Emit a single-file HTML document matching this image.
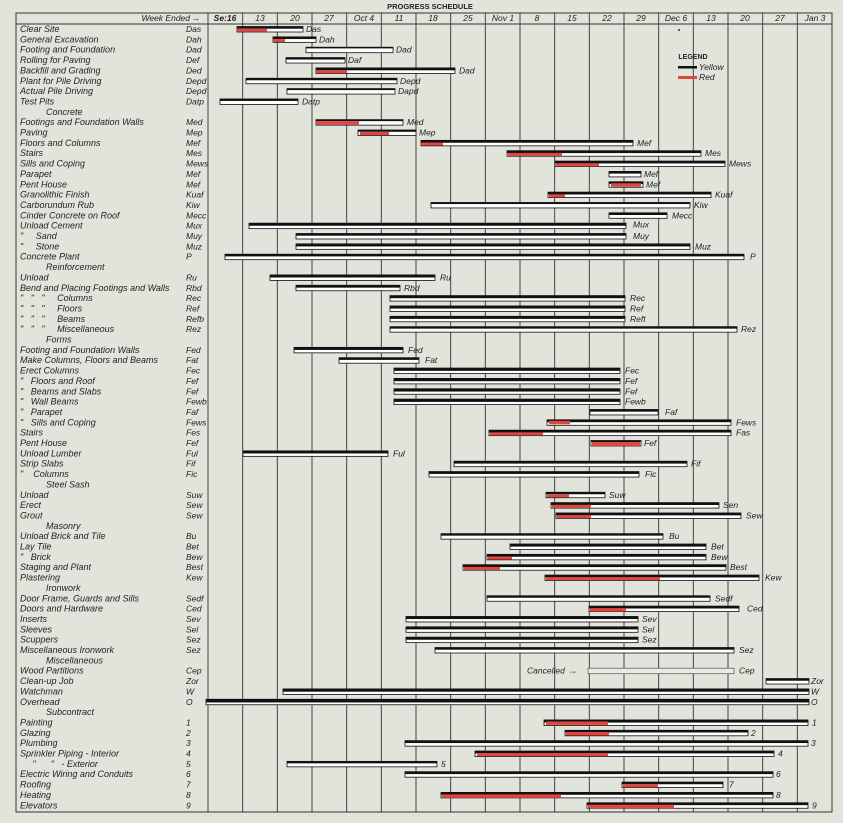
<!DOCTYPE html>
<html><head><meta charset="utf-8"><style>
html,body{margin:0;padding:0;background:#e1e4da;}
svg{display:block}
text{font-family:"Liberation Sans",sans-serif;fill:#222}
.l{font-size:9px;font-style:italic}
.c{font-size:8.5px;font-style:italic}
.t{font-size:8.5px;font-style:italic}
.h{font-size:8.5px;font-style:italic;text-anchor:middle}
.w{fill:#fff;stroke:#111;stroke-width:.8}
.k{fill:#111}
.r{fill:#e0453f}
.g{stroke:#333;stroke-width:.9}
</style></head><body>
<svg width="843" height="823" viewBox="0 0 843 823" xmlns="http://www.w3.org/2000/svg">
<rect width="843" height="823" fill="#e1e4da"/>
<text x="430" y="9" font-size="7.5" font-weight="bold" text-anchor="middle">PROGRESS SCHEDULE</text>
<!-- frame -->
<rect x="16" y="13" width="816" height="799" fill="none" stroke="#333" stroke-width="1"/>
<line class="g" x1="16" y1="24" x2="832" y2="24"/>
<g class="g">
<line x1="208" y1="13" x2="208" y2="812"/><line x1="242.7" y1="13" x2="242.7" y2="812"/><line x1="277.3" y1="13" x2="277.3" y2="812"/><line x1="312" y1="13" x2="312" y2="812"/><line x1="346.7" y1="13" x2="346.7" y2="812"/><line x1="381.3" y1="13" x2="381.3" y2="812"/><line x1="416" y1="13" x2="416" y2="812"/><line x1="450.7" y1="13" x2="450.7" y2="812"/><line x1="485.3" y1="13" x2="485.3" y2="812"/><line x1="520" y1="13" x2="520" y2="812"/><line x1="554.7" y1="13" x2="554.7" y2="812"/><line x1="589.3" y1="13" x2="589.3" y2="812"/><line x1="624" y1="13" x2="624" y2="812"/><line x1="658.7" y1="13" x2="658.7" y2="812"/><line x1="693.3" y1="13" x2="693.3" y2="812"/><line x1="728" y1="13" x2="728" y2="812"/><line x1="762.7" y1="13" x2="762.7" y2="812"/><line x1="797.3" y1="13" x2="797.3" y2="812"/>
</g>
<text x="190" y="21" class="t" text-anchor="end">Week Ended</text>
<text x="191" y="21" font-size="9">→</text>
<g transform="translate(0,21)">
<text x="225" class="h" font-weight="bold" font-style="normal">Se:16</text><text x="260" class="h">13</text><text x="295" class="h">20</text><text x="329" class="h">27</text><text x="364" class="h">Oct 4</text><text x="399" class="h">11</text><text x="433" class="h">18</text><text x="468" class="h">25</text><text x="503" class="h">Nov 1</text><text x="537" class="h">8</text><text x="572" class="h">15</text><text x="607" class="h">22</text><text x="641" class="h">29</text><text x="676" class="h">Dec 6</text><text x="711" class="h">13</text><text x="745" class="h">20</text><text x="780" class="h">27</text><text x="815" class="h">Jan 3</text>
</g>
<!-- legend -->
<text x="693" y="59" font-size="7" font-weight="bold" text-anchor="middle">LEGEND</text>
<rect x="678" y="66" width="19" height="2.5" class="k"/><text x="699" y="70" class="c">Yellow</text>
<rect x="678" y="76" width="19" height="3" class="r"/><text x="699" y="80" class="c">Red</text>
<circle cx="679" cy="30" r="1" fill="#333"/>

<!-- left labels -->
<g class="l">
<text x="20" y="32">Clear Site</text><text x="186" y="32" class="c">Das</text>
<text x="20" y="42.4">General Excavation</text><text x="186" y="42.4" class="c">Dah</text>
<text x="20" y="52.7">Footing and Foundation</text><text x="186" y="52.7" class="c">Dad</text>
<text x="20" y="63">Rolling for Paving</text><text x="186" y="63" class="c">Def</text>
<text x="20" y="73.4">Backfill and Grading</text><text x="186" y="73.4" class="c">Ded</text>
<text x="20" y="83.8">Plant for Pile Driving</text><text x="186" y="83.8" class="c">Depd</text>
<text x="20" y="94.1">Actual Pile Driving</text><text x="186" y="94.1" class="c">Depd</text>
<text x="20" y="104.5">Test Pits</text><text x="186" y="104.5" class="c">Datp</text>
<text x="46" y="114.8">Concrete</text>
<text x="20" y="125.2">Footings and Foundation Walls</text><text x="186" y="125.2" class="c">Med</text>
<text x="20" y="135.5">Paving</text><text x="186" y="135.5" class="c">Mep</text>
<text x="20" y="145.9">Floors and Columns</text><text x="186" y="145.9" class="c">Mef</text>
<text x="20" y="156.2">Stairs</text><text x="186" y="156.2" class="c">Mes</text>
<text x="20" y="166.6">Sills and Coping</text><text x="186" y="166.6" class="c">Mews</text>
<text x="20" y="176.9">Parapet</text><text x="186" y="176.9" class="c">Mef</text>
<text x="20" y="187.3">Pent House</text><text x="186" y="187.3" class="c">Mef</text>
<text x="20" y="197.6">Granolithic Finish</text><text x="186" y="197.6" class="c">Kuaf</text>
<text x="20" y="208">Carborundum Rub</text><text x="186" y="208" class="c">Kiw</text>
<text x="20" y="218.3">Cinder Concrete on Roof</text><text x="186" y="218.3" class="c">Mecc</text>
<text x="20" y="228.7">Unload Cement</text><text x="186" y="228.7" class="c">Mux</text>
<text x="20" y="239">"&#160;&#160;&#160;&#160;&#160;Sand</text><text x="186" y="239" class="c">Muy</text>
<text x="20" y="249.4">"&#160;&#160;&#160;&#160;&#160;Stone</text><text x="186" y="249.4" class="c">Muz</text>
<text x="20" y="259.7">Concrete Plant</text><text x="186" y="259.7" class="c">P</text>
<text x="46" y="270.1">Reinforcement</text>
<text x="20" y="280.4">Unload</text><text x="186" y="280.4" class="c">Ru</text>
<text x="20" y="290.8">Bend and Placing Footings and Walls</text><text x="186" y="290.8" class="c">Rbd</text>
<text x="20" y="301.1">"&#160;&#160;&#160;"&#160;&#160;&#160;"&#160;&#160;&#160;&#160;&#160;Columns</text><text x="186" y="301.1" class="c">Rec</text>
<text x="20" y="311.5">"&#160;&#160;&#160;"&#160;&#160;&#160;"&#160;&#160;&#160;&#160;&#160;Floors</text><text x="186" y="311.5" class="c">Ref</text>
<text x="20" y="321.8">"&#160;&#160;&#160;"&#160;&#160;&#160;"&#160;&#160;&#160;&#160;&#160;Beams</text><text x="186" y="321.8" class="c">Refb</text>
<text x="20" y="332.2">"&#160;&#160;&#160;"&#160;&#160;&#160;"&#160;&#160;&#160;&#160;&#160;Miscellaneous</text><text x="186" y="332.2" class="c">Rez</text>
<text x="46" y="342.5">Forms</text>
<text x="20" y="352.9">Footing and Foundation Walls</text><text x="186" y="352.9" class="c">Fed</text>
<text x="20" y="363.2">Make Columns, Floors and Beams</text><text x="186" y="363.2" class="c">Fat</text>
<text x="20" y="373.6">Erect Columns</text><text x="186" y="373.6" class="c">Fec</text>
<text x="20" y="383.9">"&#160;&#160;&#160;Floors and Roof</text><text x="186" y="383.9" class="c">Fef</text>
<text x="20" y="394.3">"&#160;&#160;&#160;Beams and Slabs</text><text x="186" y="394.3" class="c">Fef</text>
<text x="20" y="404.6">"&#160;&#160;&#160;Wall Beams</text><text x="186" y="404.6" class="c">Fewb</text>
<text x="20" y="415">"&#160;&#160;&#160;Parapet</text><text x="186" y="415" class="c">Faf</text>
<text x="20" y="425.3">"&#160;&#160;&#160;Sills and Coping</text><text x="186" y="425.3" class="c">Fews</text>
<text x="20" y="435.7">Stairs</text><text x="186" y="435.7" class="c">Fes</text>
<text x="20" y="446">Pent House</text><text x="186" y="446" class="c">Fef</text>
<text x="20" y="456.4">Unload Lumber</text><text x="186" y="456.4" class="c">Ful</text>
<text x="20" y="466.7">Strip Slabs</text><text x="186" y="466.7" class="c">Fif</text>
<text x="20" y="477.1">"&#160;&#160;&#160;&#160;Columns</text><text x="186" y="477.1" class="c">Fic</text>
<text x="46" y="487.4">Steel Sash</text>
<text x="20" y="497.8">Unload</text><text x="186" y="497.8" class="c">Suw</text>
<text x="20" y="508.1">Erect</text><text x="186" y="508.1" class="c">Sew</text>
<text x="20" y="518.5">Grout</text><text x="186" y="518.5" class="c">Sew</text>
<text x="46" y="528.8">Masonry</text>
<text x="20" y="539.2">Unload Brick and Tile</text><text x="186" y="539.2" class="c">Bu</text>
<text x="20" y="549.5">Lay Tile</text><text x="186" y="549.5" class="c">Bet</text>
<text x="20" y="559.9">"&#160;&#160;&#160;Brick</text><text x="186" y="559.9" class="c">Bew</text>
<text x="20" y="570.2">Staging and Plant</text><text x="186" y="570.2" class="c">Best</text>
<text x="20" y="580.6">Plastering</text><text x="186" y="580.6" class="c">Kew</text>
<text x="46" y="590.9">Ironwork</text>
<text x="20" y="601.3">Door Frame, Guards and Sills</text><text x="186" y="601.3" class="c">Sedf</text>
<text x="20" y="611.6">Doors and Hardware</text><text x="186" y="611.6" class="c">Ced</text>
<text x="20" y="622">Inserts</text><text x="186" y="622" class="c">Sev</text>
<text x="20" y="632.3">Sleeves</text><text x="186" y="632.3" class="c">Sel</text>
<text x="20" y="642.7">Scuppers</text><text x="186" y="642.7" class="c">Sez</text>
<text x="20" y="653">Miscellaneous Ironwork</text><text x="186" y="653" class="c">Sez</text>
<text x="46" y="663.4">Miscellaneous</text>
<text x="20" y="673.7">Wood Partitions</text><text x="186" y="673.7" class="c">Cep</text>
<text x="20" y="684.1">Clean-up Job</text><text x="186" y="684.1" class="c">Zor</text>
<text x="20" y="694.4">Watchman</text><text x="186" y="694.4" class="c">W</text>
<text x="20" y="704.8">Overhead</text><text x="186" y="704.8" class="c">O</text>
<text x="46" y="715.1">Subcontract</text>
<text x="20" y="725.5">Painting</text><text x="186" y="725.5" class="c">1</text>
<text x="20" y="735.8">Glazing</text><text x="186" y="735.8" class="c">2</text>
<text x="20" y="746.2">Plumbing</text><text x="186" y="746.2" class="c">3</text>
<text x="20" y="756.5">Sprinkler Piping - Interior</text><text x="186" y="756.5" class="c">4</text>
<text x="20" y="766.9">&#160;&#160;&#160;&#160;&#160;"&#160;&#160;&#160;&#160;&#160;&#160;"&#160;&#160;&#160;- Exterior</text><text x="186" y="766.9" class="c">5</text>
<text x="20" y="777.2">Electric Wiring and Conduits</text><text x="186" y="777.2" class="c">6</text>
<text x="20" y="787.6">Roofing</text><text x="186" y="787.6" class="c">7</text>
<text x="20" y="797.9">Heating</text><text x="186" y="797.9" class="c">8</text>
<text x="20" y="808.3">Elevators</text><text x="186" y="808.3" class="c">9</text>
</g>

<!-- bars -->
<g>
<g transform="translate(0,29)"><rect class="w" x="237" y="-2.5" width="66" height="5.5"/><rect class="k" x="237" y="-2.5" width="66" height="2.2"/><rect class="r" x="237" y="-.3" width="30" height="3"/><text x="306" y="3" class="c">Das</text></g>
<g transform="translate(0,39.35)"><rect class="w" x="273" y="-2.5" width="43" height="5.5"/><rect class="k" x="273" y="-2.5" width="43" height="2.2"/><rect class="r" x="273" y="-.3" width="12" height="3"/><text x="319" y="3" class="c">Dah</text></g>
<g transform="translate(0,49.7)"><rect class="w" x="306" y="-2.5" width="87" height="5.5"/><rect class="k" x="306" y="-2.5" width="87" height="1.2"/><text x="396" y="3" class="c">Dad</text></g>
<g transform="translate(0,60.05)"><rect class="w" x="286" y="-2.5" width="59" height="5.5"/><rect class="k" x="286" y="-2.5" width="59" height="2"/><text x="348" y="3" class="c">Daf</text></g>
<g transform="translate(0,70.4)"><rect class="w" x="316" y="-2.5" width="139" height="5.5"/><rect class="k" x="316" y="-2.5" width="139" height="2.4"/><rect class="r" x="316" y="-.3" width="31" height="3"/><text x="459" y="3" class="c">Dad</text></g>
<g transform="translate(0,80.75)"><rect class="w" x="246" y="-2.5" width="151" height="5.5"/><rect class="k" x="246" y="-2.5" width="151" height="2"/><text x="400" y="3" class="c">Depd</text></g>
<g transform="translate(0,91.1)"><rect class="w" x="287" y="-2.5" width="108" height="5.5"/><rect class="k" x="287" y="-2.5" width="108" height="1.5"/><text x="398" y="3" class="c">Dapd</text></g>
<g transform="translate(0,101.45)"><rect class="w" x="220" y="-2.5" width="78" height="5.5"/><rect class="k" x="220" y="-2.5" width="78" height="2"/><text x="302" y="3" class="c">Datp</text></g>
<g transform="translate(0,122.15)"><rect class="w" x="316" y="-2.5" width="87" height="5.5"/><rect class="k" x="316" y="-2.5" width="87" height="1.5"/><rect class="r" x="316" y="-1" width="43" height="3.5"/><text x="407" y="3" class="c">Med</text></g>
<g transform="translate(0,132.5)"><rect class="w" x="358" y="-2.5" width="58" height="5.5"/><rect class="k" x="358" y="-2.5" width="58" height="1.8"/><rect class="r" x="360" y="-.5" width="29" height="3"/><text x="419" y="3" class="c">Mep</text></g>
<g transform="translate(0,142.85)"><rect class="w" x="421" y="-2.5" width="212" height="5.5"/><rect class="k" x="421" y="-2.5" width="212" height="2.4"/><rect class="r" x="421" y="-.3" width="22" height="3"/><text x="637" y="3" class="c">Mef</text></g>
<g transform="translate(0,153.2)"><rect class="w" x="507" y="-2.5" width="194" height="5.5"/><rect class="k" x="507" y="-2.5" width="194" height="2.4"/><rect class="r" x="508" y="-.3" width="54" height="3"/><text x="705" y="3" class="c">Mes</text></g>
<g transform="translate(0,163.55)"><rect class="w" x="555" y="-2.5" width="170" height="5.5"/><rect class="k" x="555" y="-2.5" width="170" height="2.4"/><rect class="r" x="556" y="-.3" width="43" height="3"/><text x="729" y="3" class="c">Mews</text></g>
<g transform="translate(0,173.9)"><rect class="w" x="609" y="-2.5" width="32" height="5.5"/><rect class="k" x="609" y="-2.5" width="32" height="2.2"/><text x="644" y="3" class="c">Mef</text></g>
<g transform="translate(0,184.25)"><rect class="w" x="609" y="-2.5" width="34" height="5.5"/><rect class="k" x="609" y="-2.5" width="34" height="2.2"/><rect class="r" x="611" y="-1" width="30" height="3.5"/><text x="646" y="3" class="c">Mef</text></g>
<g transform="translate(0,194.6)"><rect class="w" x="548" y="-2.5" width="163" height="5.5"/><rect class="k" x="548" y="-2.5" width="163" height="2.4"/><rect class="r" x="549" y="-.3" width="16" height="3"/><text x="715" y="3" class="c">Kuaf</text></g>
<g transform="translate(0,204.95)"><rect class="w" x="431" y="-2.5" width="259" height="5.5"/><rect class="k" x="431" y="-2.5" width="259" height="1.6"/><text x="694" y="3" class="c">Kiw</text></g>
<g transform="translate(0,215.3)"><rect class="w" x="609" y="-2.5" width="58" height="5.5"/><rect class="k" x="609" y="-2.5" width="58" height="2.2"/><text x="672" y="3" class="c">Mecc</text></g>
<g transform="translate(0,225.65)"><rect class="w" x="249" y="-2.5" width="377" height="5.5"/><rect class="k" x="249" y="-2.5" width="377" height="2.6"/><text x="633" y="2" class="c">Mux</text></g>
<g transform="translate(0,236)"><rect class="w" x="296" y="-2.5" width="330" height="5.5"/><rect class="k" x="296" y="-2.5" width="330" height="2.2"/><text x="633" y="3" class="c">Muy</text></g>
<g transform="translate(0,246.35)"><rect class="w" x="296" y="-2.5" width="394" height="5.5"/><rect class="k" x="296" y="-2.5" width="394" height="2.6"/><text x="695" y="3" class="c">Muz</text></g>
<g transform="translate(0,256.7)"><rect class="w" x="225" y="-2.5" width="519" height="5.5"/><rect class="k" x="225" y="-2.5" width="519" height="2.2"/><text x="750" y="3" class="c">P</text></g>
<g transform="translate(0,277.4)"><rect class="w" x="270" y="-2.5" width="165" height="5.5"/><rect class="k" x="270" y="-2.5" width="165" height="2.6"/><text x="440" y="3" class="c">Ru</text></g>
<g transform="translate(0,287.75)"><rect class="w" x="296" y="-2.5" width="104" height="5.5"/><rect class="k" x="296" y="-2.5" width="104" height="2.4"/><text x="404" y="3" class="c">Rbd</text></g>
<g transform="translate(0,298.1)"><rect class="w" x="390" y="-2.5" width="235" height="5.5"/><rect class="k" x="390" y="-2.5" width="235" height="2.6"/><text x="630" y="3" class="c">Rec</text></g>
<g transform="translate(0,308.45)"><rect class="w" x="390" y="-2.5" width="235" height="5.5"/><rect class="k" x="390" y="-2.5" width="235" height="2.6"/><text x="630" y="3" class="c">Ref</text></g>
<g transform="translate(0,318.8)"><rect class="w" x="390" y="-2.5" width="235" height="5.5"/><rect class="k" x="390" y="-2.5" width="235" height="2.6"/><text x="630" y="3" class="c">Reft</text></g>
<g transform="translate(0,329.15)"><rect class="w" x="390" y="-2.5" width="347" height="5.5"/><rect class="k" x="390" y="-2.5" width="347" height="2"/><text x="741" y="3" class="c">Rez</text></g>
<g transform="translate(0,349.85)"><rect class="w" x="294" y="-2.5" width="109" height="5.5"/><rect class="k" x="294" y="-2.5" width="109" height="2.6"/><text x="408" y="3" class="c">Fed</text></g>
<g transform="translate(0,360.2)"><rect class="w" x="339" y="-2.5" width="80" height="5.5"/><rect class="k" x="339" y="-2.5" width="80" height="2.2"/><text x="425" y="3" class="c">Fat</text></g>
<g transform="translate(0,370.55)"><rect class="w" x="394" y="-2.5" width="226" height="5.5"/><rect class="k" x="394" y="-2.5" width="226" height="2.8"/><text x="625" y="3" class="c">Fec</text></g>
<g transform="translate(0,380.9)"><rect class="w" x="394" y="-2.5" width="226" height="5.5"/><rect class="k" x="394" y="-2.5" width="226" height="2.8"/><text x="625" y="3" class="c">Fef</text></g>
<g transform="translate(0,391.25)"><rect class="w" x="394" y="-2.5" width="226" height="5.5"/><rect class="k" x="394" y="-2.5" width="226" height="2.8"/><text x="625" y="3" class="c">Fef</text></g>
<g transform="translate(0,401.6)"><rect class="w" x="394" y="-2.5" width="226" height="5.5"/><rect class="k" x="394" y="-2.5" width="226" height="2.8"/><text x="625" y="3" class="c">Fewb</text></g>
<g transform="translate(0,411.95)"><rect class="w" x="590" y="-2.5" width="68" height="5.5"/><rect class="k" x="590" y="-2.5" width="68" height="2.2"/><text x="665" y="3" class="c">Faf</text></g>
<g transform="translate(0,422.3)"><rect class="w" x="547" y="-2.5" width="184" height="5.5"/><rect class="k" x="547" y="-2.5" width="184" height="2.4"/><rect class="r" x="549" y="-1.5" width="21" height="3.5"/><text x="736" y="3" class="c">Fews</text></g>
<g transform="translate(0,432.65)"><rect class="w" x="489" y="-2.5" width="242" height="5.5"/><rect class="k" x="489" y="-2.5" width="242" height="2.4"/><rect class="r" x="490" y="-.3" width="53" height="3"/><text x="736" y="3" class="c">Fas</text></g>
<g transform="translate(0,443)"><rect class="w" x="591" y="-2.5" width="50" height="5.5"/><rect class="k" x="591" y="-2.5" width="50" height="1.5"/><rect class="r" x="592" y="-1" width="48" height="4"/><text x="644" y="3" class="c">Fef</text></g>
<g transform="translate(0,453.35)"><rect class="w" x="243" y="-2.5" width="145" height="5.5"/><rect class="k" x="243" y="-2.5" width="145" height="2.6"/><text x="393" y="3" class="c">Ful</text></g>
<g transform="translate(0,463.7)"><rect class="w" x="454" y="-2.5" width="233" height="5.5"/><rect class="k" x="454" y="-2.5" width="233" height="2.4"/><text x="691" y="3" class="c">Fif</text></g>
<g transform="translate(0,474.05)"><rect class="w" x="429" y="-2.5" width="210" height="5.5"/><rect class="k" x="429" y="-2.5" width="210" height="2.4"/><text x="645" y="3" class="c">Fic</text></g>
<g transform="translate(0,494.75)"><rect class="w" x="546" y="-2.5" width="59" height="5.5"/><rect class="k" x="546" y="-2.5" width="59" height="2"/><rect class="r" x="547" y="-.3" width="22" height="3"/><text x="609" y="3" class="c">Suw</text></g>
<g transform="translate(0,505.1)"><rect class="w" x="551" y="-2.5" width="168" height="5.5"/><rect class="k" x="551" y="-2.5" width="168" height="2.4"/><rect class="r" x="552" y="-.3" width="39" height="3"/><text x="723" y="3" class="c">Sen</text></g>
<g transform="translate(0,515.45)"><rect class="w" x="556" y="-2.5" width="185" height="5.5"/><rect class="k" x="556" y="-2.5" width="185" height="2.4"/><rect class="r" x="557" y="-.3" width="34" height="3"/><text x="746" y="3" class="c">Sew</text></g>
<g transform="translate(0,536.15)"><rect class="w" x="441" y="-2.5" width="222" height="5.5"/><rect class="k" x="441" y="-2.5" width="222" height="2"/><text x="669" y="3" class="c">Bu</text></g>
<g transform="translate(0,546.5)"><rect class="w" x="510" y="-2.5" width="196" height="5.5"/><rect class="k" x="510" y="-2.5" width="196" height="2.6"/><text x="711" y="3" class="c">Bet</text></g>
<g transform="translate(0,556.85)"><rect class="w" x="487" y="-2.5" width="219" height="5.5"/><rect class="k" x="487" y="-2.5" width="219" height="2.4"/><rect class="r" x="488" y="-.3" width="24" height="3"/><text x="711" y="3" class="c">Bew</text></g>
<g transform="translate(0,567.2)"><rect class="w" x="463" y="-2.5" width="263" height="5.5"/><rect class="k" x="463" y="-2.5" width="263" height="2.4"/><rect class="r" x="464" y="-.3" width="36" height="3"/><text x="730" y="3" class="c">Best</text></g>
<g transform="translate(0,577.55)"><rect class="w" x="545" y="-2.5" width="214" height="5.5"/><rect class="k" x="545" y="-2.5" width="214" height="2.4"/><rect class="r" x="546" y="-.5" width="114" height="3"/><text x="765" y="3" class="c">Kew</text></g>
<g transform="translate(0,598.25)"><rect class="w" x="487" y="-2.5" width="223" height="5.5"/><rect class="k" x="487" y="-2.5" width="223" height="2"/><text x="715" y="3" class="c">Sedf</text></g>
<g transform="translate(0,608.6)"><rect class="w" x="589" y="-2.5" width="150" height="5.5"/><rect class="k" x="589" y="-2.5" width="150" height="2.4"/><rect class="r" x="590" y="-.5" width="36" height="3.5"/><text x="747" y="3" class="c">Ced</text></g>
<g transform="translate(0,618.95)"><rect class="w" x="406" y="-2.5" width="232" height="5.5"/><rect class="k" x="406" y="-2.5" width="232" height="2.6"/><text x="642" y="3" class="c">Sev</text></g>
<g transform="translate(0,629.3)"><rect class="w" x="406" y="-2.5" width="232" height="5.5"/><rect class="k" x="406" y="-2.5" width="232" height="2.6"/><text x="642" y="3" class="c">Sel</text></g>
<g transform="translate(0,639.65)"><rect class="w" x="406" y="-2.5" width="232" height="5.5"/><rect class="k" x="406" y="-2.5" width="232" height="2.6"/><text x="642" y="3" class="c">Sez</text></g>
<g transform="translate(0,650)"><rect class="w" x="435" y="-2.5" width="299" height="5.5"/><rect class="k" x="435" y="-2.5" width="299" height="2.2"/><text x="739" y="3" class="c">Sez</text></g>
<g transform="translate(0,670.7)"><text x="527" y="3" class="c">Cancelled</text><text x="568" y="3" font-size="9">→</text><rect x="588" y="-2.5" width="146" height="5.5" fill="#e8ebe3" stroke="#555" stroke-width=".7"/><text x="739" y="3" class="c">Cep</text></g>
<g transform="translate(0,681.05)"><rect class="w" x="766" y="-2.5" width="43" height="5.5"/><rect class="k" x="766" y="-2.5" width="43" height="2.2"/><text x="811" y="3" class="c">Zor</text></g>
<g transform="translate(0,691.4)"><rect class="w" x="283" y="-2.5" width="526" height="5.5"/><rect class="k" x="283" y="-2.5" width="526" height="2.8"/><text x="811" y="3" class="c">W</text></g>
<g transform="translate(0,701.75)"><rect class="w" x="206" y="-2.5" width="603" height="5.5"/><rect class="k" x="206" y="-2.5" width="603" height="3.2"/><text x="811" y="3" class="c">O</text></g>
<g transform="translate(0,722.45)"><rect class="w" x="544" y="-2.5" width="264" height="5.5"/><rect class="k" x="544" y="-2.5" width="264" height="2.6"/><rect class="r" x="546" y="-1" width="62" height="3.5"/><text x="812" y="3" class="c">1</text></g>
<g transform="translate(0,732.8)"><rect class="w" x="565" y="-2.5" width="183" height="5.5"/><rect class="k" x="565" y="-2.5" width="183" height="2.2"/><rect class="r" x="566" y="-.8" width="43" height="3.5"/><text x="751" y="3" class="c">2</text></g>
<g transform="translate(0,743.15)"><rect class="w" x="405" y="-2.5" width="403" height="5.5"/><rect class="k" x="405" y="-2.5" width="403" height="2.4"/><text x="811" y="3" class="c">3</text></g>
<g transform="translate(0,753.5)"><rect class="w" x="475" y="-2.5" width="299" height="5.5"/><rect class="k" x="475" y="-2.5" width="299" height="2.4"/><rect class="r" x="477" y="-.5" width="131" height="3"/><text x="778" y="3" class="c">4</text></g>
<g transform="translate(0,763.85)"><rect class="w" x="287" y="-2.5" width="150" height="5.5"/><rect class="k" x="287" y="-2.5" width="150" height="2"/><text x="441" y="3" class="c">5</text></g>
<g transform="translate(0,774.2)"><rect class="w" x="405" y="-2.5" width="368" height="5.5"/><rect class="k" x="405" y="-2.5" width="368" height="2.4"/><text x="776" y="3" class="c">6</text></g>
<g transform="translate(0,784.55)"><rect class="w" x="622" y="-2.5" width="101" height="5.5"/><rect class="k" x="622" y="-2.5" width="101" height="2.2"/><rect class="r" x="623" y="-.5" width="35" height="3"/><text x="729" y="3" class="c">7</text></g>
<g transform="translate(0,794.9)"><rect class="w" x="441" y="-2.5" width="332" height="5.5"/><rect class="k" x="441" y="-2.5" width="332" height="2.4"/><rect class="r" x="442" y="-.5" width="119" height="3.5"/><text x="776" y="3" class="c">8</text></g>
<g transform="translate(0,805.25)"><rect class="w" x="587" y="-2.5" width="221" height="5.5"/><rect class="k" x="587" y="-2.5" width="221" height="2.4"/><rect class="r" x="588" y="-.5" width="86" height="3.5"/><text x="812" y="3" class="c">9</text></g>
</g>
</svg>
</body></html>
